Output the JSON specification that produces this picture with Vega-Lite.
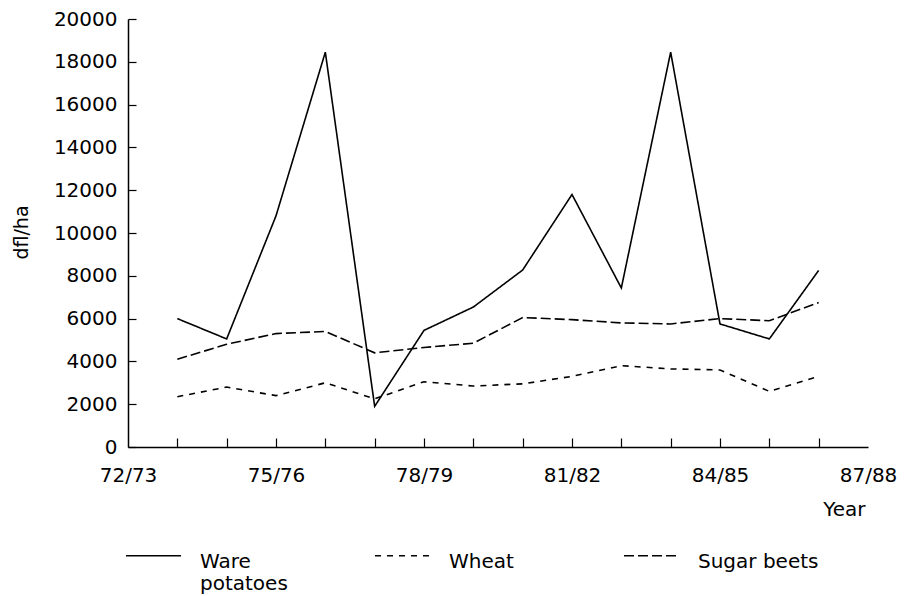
{
  "$schema": "https://vega.github.io/schema/vega-lite/v6.json",
  "width": 740,
  "height": 428,
  "autosize": "none",
  "padding": {"left": 128, "top": 19, "right": 38, "bottom": 149},
  "background": "white",
  "config": {
    "view": {"stroke": null},
    "font": "DejaVu Sans",
    "axis": {
      "domainColor": "black",
      "domainWidth": 1.5,
      "tickColor": "black",
      "tickWidth": 1.2,
      "labelColor": "black",
      "titleColor": "black",
      "labelFontSize": 20,
      "titleFontSize": 19,
      "titleFontWeight": "normal",
      "grid": false
    }
  },
  "data": {
    "values": [
      {"year": "73/74", "crop": "Ware potatoes", "value": 6000},
      {"year": "74/75", "crop": "Ware potatoes", "value": 5050},
      {"year": "75/76", "crop": "Ware potatoes", "value": 10800},
      {"year": "76/77", "crop": "Ware potatoes", "value": 18450},
      {"year": "77/78", "crop": "Ware potatoes", "value": 1900},
      {"year": "78/79", "crop": "Ware potatoes", "value": 5450},
      {"year": "79/80", "crop": "Ware potatoes", "value": 6540},
      {"year": "80/81", "crop": "Ware potatoes", "value": 8270},
      {"year": "81/82", "crop": "Ware potatoes", "value": 11800},
      {"year": "82/83", "crop": "Ware potatoes", "value": 7430},
      {"year": "83/84", "crop": "Ware potatoes", "value": 18450},
      {"year": "84/85", "crop": "Ware potatoes", "value": 5750},
      {"year": "85/86", "crop": "Ware potatoes", "value": 5050},
      {"year": "86/87", "crop": "Ware potatoes", "value": 8250},
      {"year": "73/74", "crop": "Wheat", "value": 2350},
      {"year": "74/75", "crop": "Wheat", "value": 2800},
      {"year": "75/76", "crop": "Wheat", "value": 2400},
      {"year": "76/77", "crop": "Wheat", "value": 3000},
      {"year": "77/78", "crop": "Wheat", "value": 2250},
      {"year": "78/79", "crop": "Wheat", "value": 3050},
      {"year": "79/80", "crop": "Wheat", "value": 2850},
      {"year": "80/81", "crop": "Wheat", "value": 2950},
      {"year": "81/82", "crop": "Wheat", "value": 3300},
      {"year": "82/83", "crop": "Wheat", "value": 3800},
      {"year": "83/84", "crop": "Wheat", "value": 3650},
      {"year": "84/85", "crop": "Wheat", "value": 3600},
      {"year": "85/86", "crop": "Wheat", "value": 2600},
      {"year": "86/87", "crop": "Wheat", "value": 3300},
      {"year": "73/74", "crop": "Sugar beets", "value": 4100},
      {"year": "74/75", "crop": "Sugar beets", "value": 4800},
      {"year": "75/76", "crop": "Sugar beets", "value": 5300},
      {"year": "76/77", "crop": "Sugar beets", "value": 5400},
      {"year": "77/78", "crop": "Sugar beets", "value": 4400},
      {"year": "78/79", "crop": "Sugar beets", "value": 4650},
      {"year": "79/80", "crop": "Sugar beets", "value": 4850},
      {"year": "80/81", "crop": "Sugar beets", "value": 6050},
      {"year": "81/82", "crop": "Sugar beets", "value": 5950},
      {"year": "82/83", "crop": "Sugar beets", "value": 5800},
      {"year": "83/84", "crop": "Sugar beets", "value": 5750},
      {"year": "84/85", "crop": "Sugar beets", "value": 6000},
      {"year": "85/86", "crop": "Sugar beets", "value": 5900},
      {"year": "86/87", "crop": "Sugar beets", "value": 6750}
    ]
  },
  "mark": {"type": "line", "color": "black", "strokeWidth": 1.6},
  "encoding": {
    "x": {
      "field": "year",
      "type": "ordinal",
      "sort": null,
      "scale": {
        "type": "point",
        "padding": 0,
        "domain": ["72/73", "73/74", "74/75", "75/76", "76/77", "77/78", "78/79", "79/80", "80/81", "81/82", "82/83", "83/84", "84/85", "85/86", "86/87", "87/88"]
      },
      "axis": {
        "title": "Year",
        "labelAngle": 0,
        "labelOverlap": false,
        "labelExpr": "indexof(['72/73','75/76','78/79','81/82','84/85','87/88'], datum.value) >= 0 ? datum.label : ''",
        "tickSize": -9,
        "labelPadding": 27,
        "tickOpacity": {"condition": {"test": "datum.value == '72/73' || datum.value == '87/88'", "value": 0}, "value": 1},
        "titleAnchor": "end",
        "titleAlign": "right",
        "titleBaseline": "top",
        "titleX": 737,
        "titleY": 52,
        "titleFontSize": 20
      }
    },
    "y": {
      "field": "value",
      "type": "quantitative",
      "scale": {"domain": [0, 20000]},
      "axis": {
        "title": "dfl/ha",
        "values": [0, 2000, 4000, 6000, 8000, 10000, 12000, 14000, 16000, 18000, 20000],
        "format": "d",
        "tickSize": -8,
        "labelPadding": 19,
        "titleAngle": -90,
        "titleAlign": "center",
        "titleBaseline": "middle",
        "titleX": -107,
        "titleY": 213
      }
    },
    "strokeDash": {
      "field": "crop",
      "type": "nominal",
      "scale": {
        "domain": ["Ware potatoes", "Wheat", "Sugar beets"],
        "range": [[1, 0], [6, 6], [10, 4]]
      },
      "legend": {
        "title": null,
        "orient": "none",
        "legendX": -3,
        "legendY": 508,
        "direction": "horizontal",
        "columns": 3,
        "gridAlign": "all",
        "symbolType": "stroke",
        "symbolSize": 3025,
        "symbolStrokeWidth": 1.5,
        "symbolStrokeColor": "black",
        "labelFontSize": 20,
        "labelColor": "black",
        "labelBaseline": "top",
        "labelOffset": 18,
        "labelLimit": 300,
        "columnPadding": 51,
        "labelExpr": "datum.label == 'Ware potatoes' ? ['Ware', 'potatoes'] : [datum.label, '']",
        "encode": {
          "labels": {"update": {"dy": {"value": -4}, "lineHeight": {"value": 22}}}
        }
      }
    }
  }
}
